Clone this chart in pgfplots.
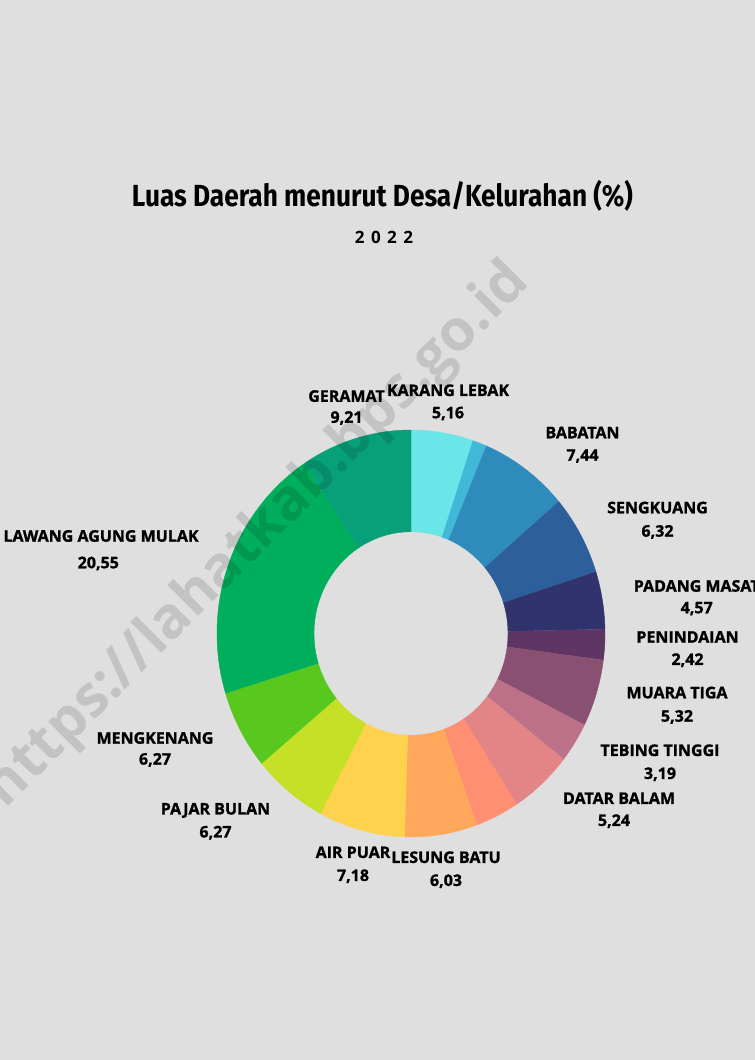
\documentclass[border=0pt]{standalone}
\usepackage{fontspec}
\usepackage{pgfplots}
\usepackage{pgfplotstable}
\pgfplotsset{compat=1.18}
\setmainfont{Open Sans}
\newfontfamily\labfont{Open Sans}[BoldFeatures={FakeBold=1.2}]
\newfontfamily\titlefont{Fira Sans}[FakeStretch=0.86]
\newfontfamily\yearfont{Open Sans}[LetterSpace=38]

\definecolor{bg}{HTML}{DFDFDF}
\definecolor{seg0}{HTML}{6AE6E8}
\definecolor{seg1}{HTML}{42B8D9}
\definecolor{seg2}{HTML}{2E8BBC}
\definecolor{seg3}{HTML}{2D5F9B}
\definecolor{seg4}{HTML}{30336E}
\definecolor{seg5}{HTML}{5E3565}
\definecolor{seg6}{HTML}{8A5072}
\definecolor{seg7}{HTML}{BC7189}
\definecolor{seg8}{HTML}{E38486}
\definecolor{seg9}{HTML}{FF8F73}
\definecolor{seg10}{HTML}{FFA85B}
\definecolor{seg11}{HTML}{FFD24E}
\definecolor{seg12}{HTML}{C6E028}
\definecolor{seg13}{HTML}{58C81E}
\definecolor{seg14}{HTML}{00AE5C}
\definecolor{seg15}{HTML}{07A078}

% shares (%), clockwise from the top
\pgfplotstableread{
value
5.16
1.17
7.44
6.32
4.57
2.42
5.32
3.19
5.24
3.66
6.03
7.18
6.27
6.27
20.55
9.21
}\donutdata

\tikzset{
  lab/.style={anchor=base, font=\labfont\bfseries\fontsize{12}{13}\selectfont, text=black},
}

\begin{document}
\begin{tikzpicture}
\useasboundingbox (0,0) rectangle (566.25pt,795pt);
\fill[bg] (0,0) rectangle (566.25pt,795pt);
\begin{axis}[at={(0,0)}, anchor=south west, scale only axis,
  width=566.25pt, height=795pt, xmin=0, xmax=755, ymin=0, ymax=1060,
  hide axis, clip=false]
\def\cum{0}
\pgfplotsforeachungrouped \i in {0,...,15}{%
  \pgfplotstablegetelem{\i}{value}\of\donutdata
  \pgfmathsetmacro\A{90-3.6*\cum}%
  \pgfmathsetmacro\cum{\cum+\pgfplotsretval}%
  \pgfmathsetmacro\B{90-3.6*\cum}%
  \edef\doplot{\noexpand\addplot[fill=seg\i, draw=seg\i, line width=0.3pt,
     domain=0:3, samples=241, variable=\noexpand\t]
    ({411+194*(1-0.5*min(max(\noexpand\t-1,0),1))*cos((\A)+((\B)-(\A))*min(\noexpand\t,1)-((\B)-(\A))*max(\noexpand\t-2,0))},
     {426.5+203.5*(1-0.5*min(max(\noexpand\t-1,0),1))*sin((\A)+((\B)-(\A))*min(\noexpand\t,1)-((\B)-(\A))*max(\noexpand\t-2,0))});}%
  \doplot
}

% watermark
\node[rotate=45, font=\bfseries\fontsize{43}{43}\selectfont, text=black, opacity=0.12] at (axis cs:258,524) {https://lahatkab.bps.go.id};

% title
\node[anchor=base, font=\titlefont\bfseries\fontsize{22.9}{26}\selectfont] at (axis cs:382.5,853.3) {Luas Daerah menurut Desa/Kelurahan (\%)};
\node[anchor=base, font=\yearfont\bfseries\fontsize{12.75}{14}\selectfont] at (axis cs:384,816) {2022};

% labels
\node[lab] at (axis cs:346.5,658.2) {GERAMAT};
\node[lab] at (axis cs:346.5,637.2) {9,21};
\node[lab] at (axis cs:448,664) {KARANG LEBAK};
\node[lab] at (axis cs:448,641.7) {5,16};
\node[lab] at (axis cs:582.5,621.7) {BABATAN};
\node[lab] at (axis cs:582.5,599.3) {7,44};
\node[lab] at (axis cs:657.5,546.7) {SENGKUANG};
\node[lab] at (axis cs:657.5,523.3) {6,32};
\node[lab] at (axis cs:696.7,468.3) {PADANG MASAT};
\node[lab] at (axis cs:696.7,446.7) {4,57};
\node[lab] at (axis cs:687.5,417.3) {PENINDAIAN};
\node[lab] at (axis cs:687.5,395) {2,42};
\node[lab] at (axis cs:677,361.7) {MUARA TIGA};
\node[lab] at (axis cs:677,338.3) {5,32};
\node[lab] at (axis cs:660,304) {TEBING TINGGI};
\node[lab] at (axis cs:660,281) {3,19};
\node[lab] at (axis cs:619,256) {DATAR BALAM};
\node[lab] at (axis cs:614,234) {5,24};
\node[lab] at (axis cs:446,197) {LESUNG BATU};
\node[lab] at (axis cs:446,174) {6,03};
\node[lab] at (axis cs:353,202) {AIR PUAR};
\node[lab] at (axis cs:353,179) {7,18};
\node[lab] at (axis cs:215.5,245.5) {PAJAR BULAN};
\node[lab] at (axis cs:215.5,222.5) {6,27};
\node[lab] at (axis cs:155,316.3) {MENGKENANG};
\node[lab] at (axis cs:155,295.3) {6,27};
\node[lab] at (axis cs:101,518.3) {LAWANG AGUNG MULAK};
\node[lab] at (axis cs:98.3,491.7) {20,55};
\end{axis}
\end{tikzpicture}
\end{document}
